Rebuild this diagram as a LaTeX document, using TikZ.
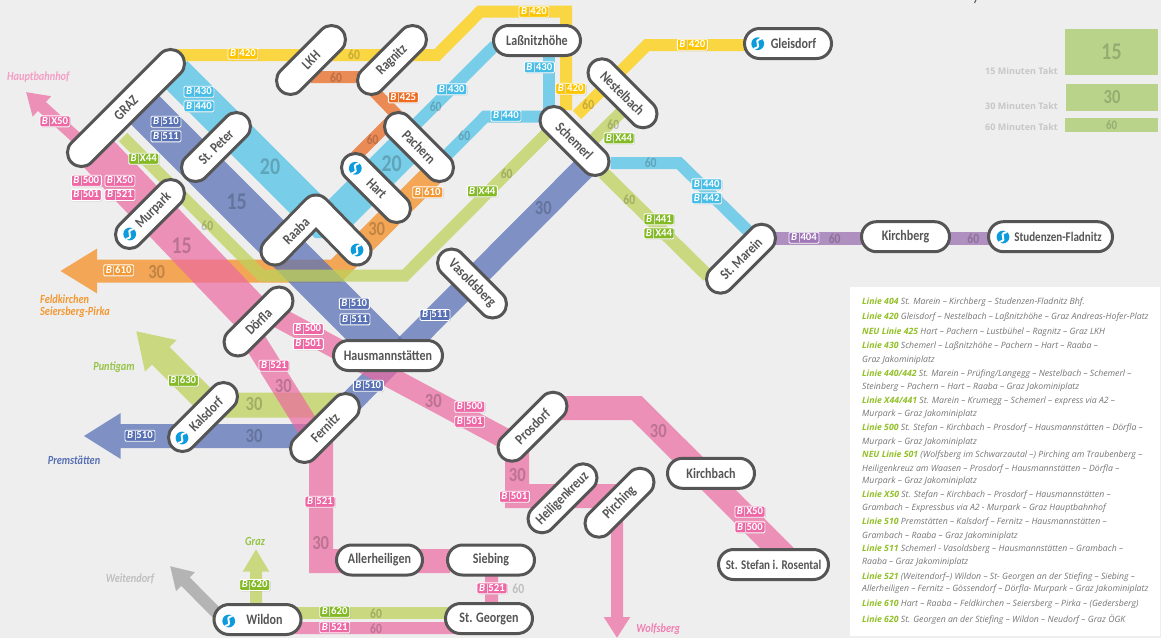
\documentclass[tikz,border=0pt]{standalone}
\usepackage{fontspec}
\usetikzlibrary{arrows.meta,shapes.misc,shadows}
\setmainfont{Carlito}
\newfontfamily\cond[FakeStretch=0.83]{Carlito}
\newfontfamily\lgf{Open Sans}
\definecolor{bgc}{RGB}{238,238,238}
\definecolor{rpink}{RGB}{236,105,161}
\definecolor{rblue}{RGB}{90,115,182}
\definecolor{rsky}{RGB}{81,194,230}
\definecolor{rgreen}{RGB}{190,210,90}
\definecolor{ryellow}{RGB}{255,206,10}
\definecolor{rorange}{RGB}{245,143,35}
\definecolor{rdark}{RGB}{233,105,35}
\definecolor{rpurple}{RGB}{154,111,177}
\definecolor{rgrey}{RGB}{180,180,180}
\definecolor{bpink}{RGB}{238,104,166}
\definecolor{bblue}{RGB}{88,112,180}
\definecolor{bsky}{RGB}{70,190,232}
\definecolor{bgreen}{RGB}{132,186,38}
\definecolor{byellow}{RGB}{253,198,0}
\definecolor{borange}{RGB}{243,152,50}
\definecolor{bdark}{RGB}{238,108,32}
\definecolor{bpurple}{RGB}{160,118,184}
\definecolor{stk}{RGB}{85,85,85}
\definecolor{sblue}{RGB}{12,156,222}
\definecolor{lgreen}{RGB}{146,192,40}
\definecolor{lgrey}{RGB}{118,118,118}
\definecolor{tkt}{RGB}{185,211,139}
\pgfdeclarelayer{bg}
\pgfsetlayers{bg,main}
\newcommand\bi{{\itshape B}\hspace{1.5pt}\textcolor{white!85!black}{\rule[-1.6pt]{.35pt}{9pt}}\hspace{1.5pt}}
\newcommand\lgb[1]{\textcolor{lgreen}{\textbf{#1}}}
\newcommand\sicon[2]{%
  \fill[sblue] (#1,#2) circle (6.4);
  \begin{scope}[shift={(#1,#2)}]
    \draw[white,line width=1.9pt,line cap=round] (3.5,-5) .. controls (-6.5,-2.5) and (6.5,2.5) .. (-3.5,5);
  \end{scope}}
\tikzset{
  x=1pt,y=-1pt,
  band/.style={line width=#1,draw opacity=.75},
  stn/.style={rounded rectangle,draw=stk,line width=3pt,fill=white,text=stk,
    minimum height=30pt,minimum width=#1,inner sep=0pt,
    font=\cond\bfseries\fontsize{14.5}{15}\selectfont,
    drop shadow={shadow xshift=.7pt,shadow yshift=-.7pt,opacity=.25}},
  sdg/.style={stn=86pt,minimum height=28pt},
  bdg/.style={rectangle,rounded corners=1.2pt,fill=#1,draw=white,line width=.9pt,text=white,
    minimum width=30pt,minimum height=11pt,inner sep=0pt,
    font=\bfseries\fontsize{10.8}{11}\selectfont,
    drop shadow={shadow xshift=.8pt,shadow yshift=-.8pt,opacity=.3}},
  fq/.style={inner sep=0pt,text=black,text opacity=.2,font=\cond\bfseries\fontsize{#1}{#1}\selectfont},
  fq/.default=14,
  dest/.style={inner sep=0pt,text=#1,font=\cond\bfseries\itshape\fontsize{12.4}{13}\selectfont},
  lg/.style={anchor=west,inner sep=0pt,text=lgrey,font=\lgf\itshape\fontsize{8.7}{10}\selectfont},
  tk/.style={anchor=east,inner sep=0pt,text=black!22,font=\lgf\bfseries\fontsize{9}{10}\selectfont},
  tbox/.style={rectangle,fill=tkt,inner sep=0pt,text=black,text opacity=.18}
}
\begin{document}
\begin{tikzpicture}
\useasboundingbox (0,0) rectangle (1161,638);
% ---------- stations ----------
\coordinate (raabaL) at (275,251);
\coordinate (raabaApex) at (316,209);
\coordinate (raabaR) at (357,251);
\draw[stk,line width=31pt,line cap=round,line join=round] (raabaL) -- (raabaApex) -- (raabaR);
\draw[white,line width=25pt,line cap=round,line join=round] (raabaL) -- (raabaApex) -- (raabaR);
\node[inner sep=0pt,rotate=45,text=stk,font=\cond\bfseries\fontsize{14.5}{15}\selectfont] (raaba) at (296,231) {Raaba};
\node[stn=154pt,minimum height=28pt,rotate=45] (graz) at (126,108) {GRAZ};
\node[sdg,rotate=45] (stpeter) at (216,147) {St. Peter};
\node[sdg,rotate=45] (murpark) at (150,214) {\hspace*{10pt}Murpark};
\node[sdg,rotate=45] (lkh) at (311,60) {LKH};
\node[sdg,rotate=45] (ragnitz) at (392,60) {Ragnitz};
\node[sdg,rotate=-45] (pachern) at (419,147) {Pachern};
\node[sdg,rotate=-45] (hart) at (376,188) {\hspace*{2pt}Hart};
\node[sdg,rotate=45] (dorfla) at (258.5,321.5) {Dörfla};
\node[sdg,rotate=-45] (vasoldsberg) at (472,283.5) {Vasoldsberg};
\node[sdg,rotate=-45] (schemerl) at (574.5,141) {Schemerl};
\node[sdg,rotate=-45] (nestelbach) at (622.5,93.3) {Nestelbach};
\node[sdg,rotate=45] (marein) at (741,258.7) {St. Marein};
\node[sdg,rotate=45] (kalsdorf) at (203,417) {\hspace*{8pt}Kalsdorf};
\node[sdg,rotate=45] (fernitz) at (325,428) {Fernitz};
\node[sdg,rotate=45] (prosdorf) at (532.5,426.7) {Prosdorf};
\node[sdg,rotate=45] (heiligen) at (562.5,498.3) {Heiligenkreuz};
\node[sdg,rotate=45] (pirching) at (619.5,502.7) {Pirching};
\node[stn=87pt] (lass) at (537,40.5) {Laßnitzhöhe};
\node[stn=87pt] (gleisdorf) at (788,43.5) {\hspace*{11pt}Gleisdorf};
\node[stn=88pt] (kirchberg) at (905.5,236.7) {Kirchberg};
\node[stn=124pt] (studenzen) at (1050.5,236.7) {\hspace*{15pt}\fontsize{13.3}{14}\selectfont Studenzen-Fladnitz};
\node[stn=109pt] (hausmann) at (388,355.5) {Hausmannstätten};
\node[stn=87pt] (kirchbach) at (711,473.3) {Kirchbach};
\node[stn=110pt] (stefan) at (773.5,564.5) {\fontsize{13.3}{14}\selectfont St. Stefan i. Rosental};
\node[stn=87pt] (siebing) at (491,560) {Siebing};
\node[stn=87pt] (georgen) at (489,618.5) {St. Georgen};
\node[stn=86pt] (allerheiligen) at (379.5,560) {Allerheiligen};
\node[stn=87pt] (wildon) at (257.5,619.5) {\hspace*{14pt}Wildon};
\sicon{129.7}{234}
\sicon{355.3}{168.3}
\sicon{357}{250}
\sicon{182}{438}
\sicon{228.7}{621}
\sicon{757.7}{43.7}
\sicon{1003}{237}
% ---------- routes ----------
\begin{pgfonlayer}{bg}
\fill[bgc] (0,0) rectangle (1161,638);
\fill[white] (850,287) rectangle (1160,636);
% orange 610
\begin{scope}[transparency group,opacity=.75]
\draw[rorange,line width=23pt,line join=miter,-{Triangle[length=37pt,width=42pt]}]
  ([shift={(13,28)}]pachern.center) -- (336,271) -- (60,271);
\end{scope}
% blue
\draw[rblue,band=40pt] ([shift={(4,-13)}]graz.center) -- ([shift={(0,-2.5)}]hausmann.center);
\draw[rblue,band=23.5pt] ([shift={(15.5,21)}]schemerl.center) -- (fernitz.center);
\coordinate (tipPrem) at (83.5,436);
\begin{scope}[transparency group,opacity=.75]
\draw[rblue,line width=24pt,-{Triangle[length=37pt,width=43pt]}] ([shift={(-10,8)}]fernitz.center) -- (tipPrem);
\end{scope}
% green
\draw[rgreen,band=12pt] ([shift={(-3,29)}]graz.center) -- (261.5,275.5) -- (405,275.5) -- ([shift={(-19.5,-16)}]schemerl.center);
\draw[rgreen,band=12pt] ([shift={(10.5,7)}]schemerl.center) -- ([shift={(2.5,15)}]nestelbach.center);
\draw[rgreen,band=13pt] ([shift={(29,32)}]schemerl.center) -- ([shift={(-33,17.3)}]marein.center);
\coordinate (tipPunt) at (136,331);
\begin{scope}[transparency group,opacity=.75]
\draw[rgreen,line width=25pt,-{Triangle[length=35pt,width=42pt]}] ([shift={(15,-23)}]fernitz.center) -- (210,405) -- (tipPunt);
\end{scope}
\draw[rgreen,band=12pt] ([shift={(20,-6.5)}]wildon.center) -- ([shift={(-30,-5.5)}]georgen.center);
\coordinate (tipGraz) at (256,549);
\begin{scope}[transparency group,opacity=.75]
\draw[rgreen,line width=12pt,-{Triangle[length=22.7pt,width=25pt]}] ([shift={(-1.5,-5)}]wildon.center) -- (tipGraz);
\end{scope}
% pink
\coordinate (tipHbf) at (26,92);
\coordinate (tipWolf) at (617,638);
\begin{scope}[transparency group,opacity=.7]
  \draw[rpink,line width=12pt,-{Triangle[length=21.5pt,width=26pt]}] ([shift={(-46,33)}]graz.center) -- (tipHbf);
  \draw[rpink,line width=40pt] ([shift={(-33,40)}]graz.center) -- (dorfla.center);
  \draw[rpink,line width=23pt] ([shift={(-8,13)}]dorfla.center) -- ([shift={(-7,15)}]fernitz.center);
  \draw[rpink,line width=21pt] ([shift={(7,-11)}]dorfla.center) -- ([shift={(-18,17)}]prosdorf.center);
  \draw[rpink,line width=24pt] ([shift={(-4,2)}]fernitz.center) -- (321,561) -- ([shift={(-41,1)}]siebing.center);
  \draw[rpink,line width=13pt] ([shift={(.5,5)}]siebing.center) -- ([shift={(2.5,-5)}]georgen.center);
  \draw[rpink,line width=12pt] ([shift={(20,8.5)}]wildon.center) -- ([shift={(-30,9.5)}]georgen.center);
  \draw[rpink,line width=24pt] ([shift={(25,-18.7)}]prosdorf.center) -- (636.7,408) -- ([shift={(11.5,-8.5)}]stefan.center);
  \draw[rpink,line width=24pt] ([shift={(-15.5,10)}]prosdorf.center) -- (517,496) -- ([shift={(-2.5,-6.7)}]pirching.center);
  \draw[rpink,line width=12pt,-{Triangle[length=21pt,width=25pt]}] ([shift={(-2.5,5)}]pirching.center) -- (tipWolf);
\end{scope}
% light blue
\draw[rsky,band=35pt,line join=bevel] ([shift={(49,-34.7)}]graz.center) -- (327.3,225.7) -- ([shift={(-9,-4)}]pachern.center);
\draw[rsky,band=12pt] ([shift={(-9,-17)}]pachern.center) -- ([shift={(-42,5)}]lass.center);
\draw[rsky,band=12pt] ([shift={(12,10)}]lass.center) -- ([shift={(-25.5,-26)}]schemerl.center);
\draw[rsky,band=12pt] ([shift={(26,10)}]pachern.center) -- (485,116.7) -- ([shift={(-29.5,-24.3)}]schemerl.center);
\draw[rsky,band=12pt] ([shift={(36,22)}]schemerl.center) -- (679,163) -- ([shift={(11,-24)}]marein.center);
% yellow
\draw[ryellow,band=12pt] ([shift={(45,-53)}]graz.center) -- (437,55) -- (480,11.7) -- (566,11.7) -- ([shift={(-8.5,-31)}]schemerl.center);
\draw[ryellow,band=12pt] ([shift={(2.5,-26)}]schemerl.center) -- (647,45) -- ([shift={(-40,1.5)}]gleisdorf.center);
% dark orange
\draw[rdark,band=12pt] ([shift={(0,17)}]lkh.center) -- (360,77) -- (397,115) -- ([shift={(-21,-31)}]hart.center);
% purple
\draw[rpurple,band=13pt] ([shift={(30,-20.2)}]marein.center) -- ([shift={(-40,1.8)}]studenzen.center);
% grey
\coordinate (tipWeit) at (170,566);
\draw[rgrey,line width=12pt,-{Triangle[length=22pt,width=25pt]}] ([shift={(-32.5,2)}]wildon.center) -- (tipWeit);
\end{pgfonlayer}
% ---------- frequency labels ----------
\node[fq=24] (f1) at (270,166.7) {20};
\node[fq=24] (f2) at (236.7,201.7) {15};
\node[fq=24] (f3) at (181.7,246) {15};
\node[fq] (f4) at (207.3,225.7) {60};
\node[fq=20] (f5) at (156.7,271.7) {30};
\node[fq] (f6) at (354,54.3) {60};
\node[fq] (f7) at (336,78) {60};
\node[fq] (f8) at (372.7,140) {60};
\node[fq=24] (f9) at (391.7,163.3) {20};
\node[fq=20] (f10) at (376.7,229.3) {30};
\node[fq] (f11) at (435.7,106.7) {60};
\node[fq] (f12) at (464.3,136) {60};
\node[fq] (f13) at (506.7,173.3) {60};
\node[fq] (f14) at (588.3,104.3) {60};
\node[fq] (f15) at (613.3,124.3) {60};
\node[fq] (f16) at (650.7,162.7) {60};
\node[fq] (f17) at (629.3,199.3) {60};
\node[fq=20] (f18) at (543.3,208.3) {30};
\node[fq] (f19) at (834.7,238.3) {60};
\node[fq] (f20) at (973.3,238.3) {60};
\node[fq=20] (f21) at (283.3,386) {30};
\node[fq=20] (f22) at (254,404.3) {30};
\node[fq=20] (f23) at (254,436) {30};
\node[fq=20] (f24) at (320.7,543.3) {30};
\node[fq] (f25) at (376,613.3) {60};
\node[fq] (f26) at (376,628.3) {60};
\node[fq=20] (f27) at (433.3,401.3) {30};
\node[fq=20] (f28) at (517.3,475) {30};
\node[fq=20] (f29) at (658.3,431) {30};
\node[fq] (f30) at (518.3,588.3) {60};
% ---------- badges ----------
\node[bdg=byellow] (b1) at (243,53.7) {\bi 420};
\node[bdg=bpink] (b2) at (55,121.3) {\bi X50};
\node[bdg=bsky] (b3) at (199,91.7) {\bi 430};
\node[bdg=bsky] (b4) at (199,106.3) {\bi 440};
\node[bdg=bblue] (b5) at (166,121.7) {\bi 510};
\node[bdg=bblue] (b6) at (166,136.3) {\bi 511};
\node[bdg=bgreen] (b7) at (143.7,158.7) {\bi X44};
\node[bdg=bpink] (b8) at (86.3,180.7) {\bi 500};
\node[bdg=bpink] (b9) at (120,180.7) {\bi X50};
\node[bdg=bpink] (b10) at (86.3,195) {\bi 501};
\node[bdg=bpink] (b11) at (120,195) {\bi 521};
\node[bdg=borange] (b12) at (118.7,270.3) {\bi 610};
\node[bdg=bdark] (b13) at (403.3,97.3) {\bi 425};
\node[bdg=bblue] (b14) at (354.3,303.7) {\bi 510};
\node[bdg=bblue] (b15) at (355,319.3) {\bi 511};
\node[bdg=byellow] (b16) at (534,11.7) {\bi 420};
\node[bdg=bsky] (b17) at (539.3,67.3) {\bi 430};
\node[bdg=bsky] (b18) at (451.7,89.3) {\bi 430};
\node[bdg=bsky] (b19) at (506,115.7) {\bi 440};
\node[bdg=byellow] (b20) at (570.7,88.7) {\bi 420};
\node[bdg=byellow] (b21) at (692.3,44.7) {\bi 420};
\node[bdg=bgreen] (b22) at (619,138.3) {\bi X44};
\node[bdg=bsky] (b23) at (706.7,184.3) {\bi 440};
\node[bdg=bsky] (b24) at (706.7,198.3) {\bi 442};
\node[bdg=bgreen] (b25) at (659,219.3) {\bi 441};
\node[bdg=bgreen] (b26) at (659,233.3) {\bi X44};
\node[bdg=bpurple] (b27) at (804,237.7) {\bi 404};
\node[bdg=bgreen] (b28) at (482.3,191.3) {\bi X44};
\node[bdg=borange] (b29) at (427.7,192.3) {\bi 610};
\node[bdg=bblue] (b30) at (435,315) {\bi 511};
\node[bdg=bpink] (b31) at (308.3,329) {\bi 500};
\node[bdg=bpink] (b32) at (308.3,344) {\bi 501};
\node[bdg=bpink] (b33) at (274,365.7) {\bi 521};
\node[bdg=bblue] (b34) at (368.3,385.7) {\bi 510};
\node[bdg=bgreen] (b35) at (183.3,380.7) {\bi 630};
\node[bdg=bblue] (b36) at (140,435.7) {\bi 510};
\node[bdg=bpink] (b37) at (320,501.7) {\bi 521};
\node[bdg=bgreen] (b38) at (254.7,585) {\bi 620};
\node[bdg=bgreen] (b39) at (334.7,611.7) {\bi 620};
\node[bdg=bpink] (b40) at (334.7,627.3) {\bi 521};
\node[bdg=bpink] (b41) at (469.7,406.7) {\bi 500};
\node[bdg=bpink] (b42) at (469.7,421.7) {\bi 501};
\node[bdg=bpink] (b43) at (514.3,496.7) {\bi 501};
\node[bdg=bpink] (b44) at (492,588.3) {\bi 521};
\node[bdg=bpink] (b45) at (750,511.7) {\bi X50};
\node[bdg=bpink] (b46) at (750,527.3) {\bi 500};
% ---------- destinations ----------
\node[dest=bpink!65!white] (d1) at (38.3,77.3) {Hauptbahnhof};
\node[dest=borange,anchor=west] (d2) at (40,299.3) {Feldkirchen};
\node[dest=borange,anchor=west] (d3) at (40,312) {Seiersberg-Pirka};
\node[dest=bgreen!85!white] (d4) at (114,366.7) {Puntigam};
\node[dest=bblue] (d5) at (74,460.7) {Premstätten};
\node[dest=bgreen!85!white] (d6) at (255,541.7) {Graz};
\node[dest=black!25] (d7) at (130,579) {Weitendorf};
\node[dest=bpink!85!white] (d8) at (658.3,629.3) {Wolfsberg};
% ---------- Takt key ----------
\node[tbox,minimum width=93pt,minimum height=46pt,font=\cond\bfseries\fontsize{24}{24}\selectfont] (t15) at (1111.5,52) {15};
\node[tbox,minimum width=92pt,minimum height=27pt,font=\cond\bfseries\fontsize{20}{20}\selectfont] (t30) at (1112,97.5) {30};
\node[tbox,minimum width=93pt,minimum height=14pt,font=\cond\bfseries\fontsize{13}{13}\selectfont] (t60) at (1111.5,125) {60};
\node[tk] (k15) at (1058,70.7) {15 Minuten Takt};
\node[tk] (k30) at (1058,105.7) {30 Minuten Takt};
\node[tk] (k60) at (1058,126.7) {60 Minuten Takt};
\draw[stk,line width=1pt] (976,0) -- (974.5,3);
% ---------- legend ----------
\node[lg] (l1) at (862,302.7) {\lgb{Linie 404} St. Marein – Kirchberg – Studenzen-Fladnitz Bhf.};
\node[lg] (l2) at (862,317.7) {\lgb{Linie 420} Gleisdorf – Nestelbach – Laßnitzhöhe – Graz Andreas-Hofer-Platz};
\node[lg] (l3) at (862,332.7) {\lgb{NEU Linie 425} Hart – Pachern – Lustbühel – Ragnitz – Graz LKH};
\node[lg] (l4) at (862,346.7) {\lgb{Linie 430} Schemerl – Laßnitzhöhe – Pachern – Hart – Raaba –};
\node[lg] (l5) at (862,360) {Graz Jakominiplatz};
\node[lg] (l6) at (862,374) {\lgb{Linie 440/442} St. Marein – Prüfing/Langegg – Nestelbach – Schemerl –};
\node[lg] (l7) at (862,387) {Steinberg – Pachern – Hart – Raaba – Graz Jakominiplatz};
\node[lg] (l8) at (862,401.7) {\lgb{Linie X44/441} St. Marein – Krumegg – Schemerl – express via A2 –};
\node[lg] (l9) at (862,414) {Murpark – Graz Jakominiplatz};
\node[lg] (l10) at (862,428.7) {\lgb{Linie 500} St. Stefan – Kirchbach – Prosdorf – Hausmannstätten – Dörfla –};
\node[lg] (l11) at (862,442) {Murpark – Graz Jakominiplatz};
\node[lg] (l12) at (862,455.7) {\lgb{NEU Linie 501} (Wolfsberg im Schwarzautal –) Pirching am Traubenberg –};
\node[lg] (l13) at (862,469) {Heiligenkreuz am Waasen – Prosdorf – Hausmannstätten – Dörfla –};
\node[lg] (l14) at (862,481) {Murpark – Graz Jakominiplatz};
\node[lg] (l15) at (862,495.7) {\lgb{Linie X50} St. Stefan – Kirchbach – Prosdorf – Hausmannstätten –};
\node[lg] (l16) at (862,508.7) {Grambach – Expressbus via A2 - Murpark – Graz Hauptbahnhof};
\node[lg] (l17) at (862,522.7) {\lgb{Linie 510} Premstätten – Kalsdorf – Fernitz – Hausmannstätten –};
\node[lg] (l18) at (862,536) {Grambach – Raaba – Graz Jakominiplatz};
\node[lg] (l19) at (862,549.7) {\lgb{Linie 511} Schemerl - Vasoldsberg – Hausmannstätten – Grambach –};
\node[lg] (l20) at (862,562.7) {Raaba – Graz Jakominiplatz};
\node[lg] (l21) at (862,577.7) {\lgb{Linie 521} (Weitendorf–) Wildon – St- Georgen an der Stiefing – Siebing –};
\node[lg] (l22) at (862,589.7) {Allerheiligen – Fernitz – Gössendorf – Dörfla- Murpark – Graz Jakominiplatz};
\node[lg] (l23) at (862,604.7) {\lgb{Linie 610} Hart – Raaba – Feldkirchen – Seiersberg – Pirka – (Gedersberg)};
\node[lg] (l24) at (862,619.7) {\lgb{Linie 620} St. Georgen an der Stiefing – Wildon – Neudorf – Graz ÖGK};
\end{tikzpicture}
\end{document}
